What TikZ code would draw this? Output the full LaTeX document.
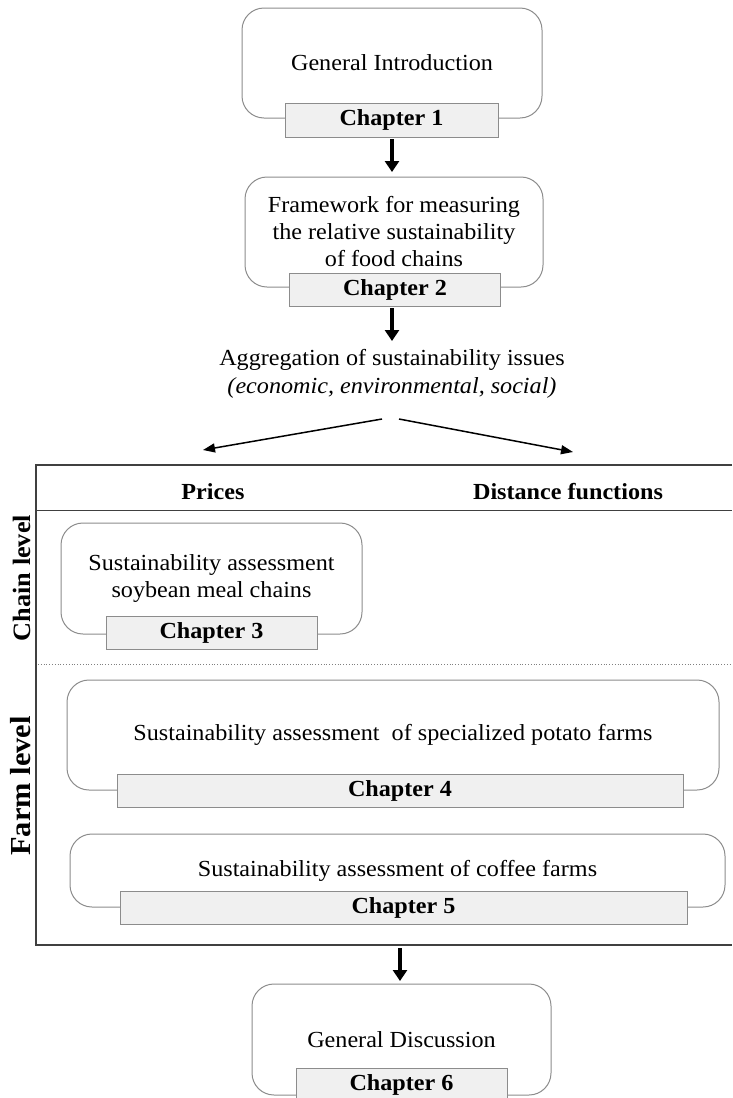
\documentclass[tikz,border=0pt]{standalone}
\usepackage{fontspec}
\setmainfont{Liberation Serif}[FakeStretch=1.05]
\usetikzlibrary{arrows.meta}
\definecolor{boxgray}{HTML}{8C8C8C}
\definecolor{labfill}{HTML}{F0F0F0}
\definecolor{framegray}{HTML}{404040}
\begin{document}
\begin{tikzpicture}[x=1pt,y=-1pt,
  every node/.style={inner sep=0pt, outer sep=0pt},
  chapbox/.style={draw=boxgray, line width=1pt, rounded corners=22pt, align=center, font=\fontsize{23}{27}\selectfont},
  chaplabel/.style={draw=boxgray, fill=labfill, line width=1pt, font=\fontsize{23}{26}\selectfont\bfseries},
  bigarrow/.style={line width=4pt, -{Triangle[width=14pt,length=11pt]}},
  thinarrow/.style={line width=1.5pt, -{Triangle[width=9pt,length=12pt]}},
  header/.style={font=\fontsize{23}{26}\selectfont\bfseries},
  levellabel/.style={rotate=90, font=\fontsize{25}{28}\selectfont\bfseries}
]
\useasboundingbox (0,0) rectangle (732,1098);

% Chapter 1
\node[chapbox, minimum width=300pt, minimum height=110pt] (b1) at (392,63) {General Introduction};
\node[chaplabel, minimum width=213pt, minimum height=34pt] (l1) at (391.5,120) {Chapter 1};

% Chapter 2
\node[chapbox, minimum width=298pt, minimum height=110pt] (b2) at (394,232) {Framework for measuring\\the relative sustainability\\of food chains};
\node[chaplabel, minimum width=211pt, minimum height=33pt] (l2) at (395,289.5) {Chapter 2};

\draw[bigarrow] (392,139) -- (392,172);

% Aggregation
\node[align=center, font=\fontsize{23}{28}\selectfont] (agg) at (392,374) {Aggregation of sustainability issues\\\textit{(economic, environmental, social)}};
\draw[bigarrow] (392,308) -- (392,341);

\coordinate (sl) at (382,419);
\coordinate (sr) at (399,419);
\coordinate (el) at (203,450);
\coordinate (er) at (573,452);
\draw[thinarrow] (sl) -- (el);
\draw[thinarrow] (sr) -- (er);

% Frame
\coordinate (ftl) at (36,465);
\coordinate (ftr) at (732,465);
\coordinate (fbl) at (36,945);
\coordinate (fbr) at (732,945);
\draw[framegray, line width=1.5pt] (ftr) -- (ftl) -- (fbl) -- (fbr);
\draw[framegray, line width=1pt] (36,510) -- (732,510);
\draw[gray, line width=0.8pt, dotted] (38,664) -- (732,664);

\node[header] (hp) at (213,492) {Prices};
\node[header] (hd) at (568,492) {Distance functions};

\node[levellabel] (cl) at (22,578) {Chain level};
\node[levellabel, font=\fontsize{29}{32}\selectfont\bfseries] (fl) at (21,786) {Farm level};

% Chapter 3
\node[chapbox, minimum width=301pt, minimum height=111pt] (b3) at (211.5,578.5) {Sustainability assessment\\soybean meal chains};
\node[chaplabel, minimum width=211pt, minimum height=33pt] (l3) at (211.5,632.5) {Chapter 3};

% Chapter 4
\node[chapbox, minimum width=652pt, minimum height=110pt] (b4) at (393,735) {Sustainability assessment\ \ of specialized potato farms};
\node[chaplabel, minimum width=566pt, minimum height=33pt] (l4) at (400,790.5) {Chapter 4};

% Chapter 5
\node[chapbox, minimum width=655pt, minimum height=73pt] (b5) at (397.5,870.5) {Sustainability assessment of coffee farms};
\node[chaplabel, minimum width=567pt, minimum height=33pt] (l5) at (403.5,907.5) {Chapter 5};

\draw[bigarrow] (400,948) -- (400,981);

% Chapter 6
\node[chapbox, minimum width=299pt, minimum height=111pt] (b6) at (401.5,1039.5) {General Discussion};
\node[chaplabel, minimum width=211pt, minimum height=33pt] (l6) at (401.5,1084.5) {Chapter 6};
\end{tikzpicture}
\end{document}
